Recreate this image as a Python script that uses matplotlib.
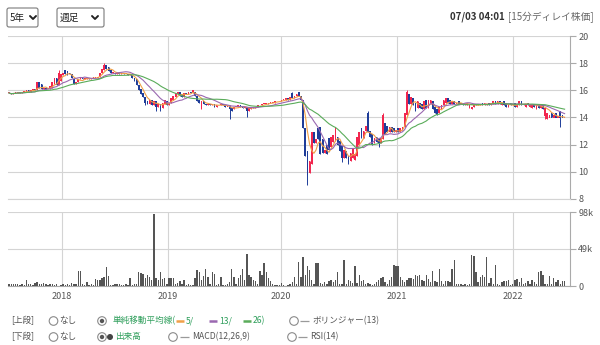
import numpy as np
import pandas as pd
import matplotlib
matplotlib.use('Agg')
import matplotlib.pyplot as plt
from matplotlib.patches import FancyBboxPatch, Circle

plt.rcParams['font.family'] = ['Noto Sans CJK JP', 'DejaVu Sans']

# 週足データ (始値 / 終値 / 出来高[千株])
opens = [
    15.8, 15.8, 15.7, 15.8, 15.8, 15.9, 15.8, 15.9, 15.9, 16.0,
    15.9, 16.0, 16.1, 16.0, 16.6, 16.5, 16.1, 16.2, 16.1, 16.1,
    16.2, 16.5, 16.9, 16.4, 16.7, 17.1, 17.5, 17.4, 17.3, 17.2,
    16.8, 16.5, 16.6, 16.8, 16.9, 16.8, 16.8, 16.9, 16.8, 16.9,
    16.9, 16.9, 17.0, 17.3, 17.5, 17.9, 17.7, 17.5, 17.3, 17.3,
    17.2, 17.3, 17.2, 17.3, 17.2, 17.2, 17.1, 17.1, 16.9, 16.8,
    16.4, 16.1, 15.8, 15.5, 15.2, 15.0, 15.3, 14.9, 15.2, 14.8,
    15.0, 14.7, 15.0, 15.2, 14.9, 15.1, 15.3, 15.5, 15.7, 15.9,
    15.7, 15.5, 15.8, 15.7, 15.9, 15.8, 15.9, 15.6, 15.3, 14.6,
    15.2, 15.0, 14.9, 15.0, 14.9, 15.0, 14.8, 14.9, 14.9, 15.0,
    14.9, 14.8, 14.9, 14.7, 14.6, 14.8, 14.8, 14.9, 14.8, 14.7,
    14.8, 14.5, 14.6, 14.8, 14.7, 14.8, 14.9, 14.9, 15.0, 15.0,
    15.0, 15.1, 15.1, 15.1, 15.2, 15.2, 15.2, 15.3, 15.3, 15.4,
    15.3, 15.8, 15.4, 15.6, 15.9, 15.6, 15.3, 13.2, 11.5, 9.9,
    10.6, 12.9, 12.1, 13.2, 13.3, 12.4, 11.4, 12.0, 12.5, 11.8,
    12.2, 12.3, 12.6, 12.3, 11.9, 11.0, 11.5, 11.2, 10.8, 11.0,
    10.9, 11.2, 12.0, 13.2, 12.5, 13.0, 14.3, 13.0, 12.8, 12.1,
    12.6, 12.4, 12.1, 12.4, 13.6, 13.4, 12.9, 13.3, 13.2, 12.9,
    13.2, 12.9, 13.1, 13.3, 14.2, 15.7, 15.0, 15.4, 15.1, 14.7,
    15.1, 15.0, 14.6, 15.3, 14.7, 15.0, 15.2, 14.8, 14.6, 14.3,
    14.6, 14.9, 15.1, 15.4, 15.3, 15.0, 15.2, 15.0, 15.2, 15.0,
    15.1, 14.9, 14.9, 14.7, 14.6, 14.8, 15.0, 14.9, 14.9, 15.1,
    14.9, 14.9, 15.1, 14.9, 15.0, 15.2, 15.0, 15.2, 14.9, 15.2,
    15.1, 14.8, 15.1, 14.9, 15.1, 14.8, 14.9, 15.2, 14.9, 14.8,
    15.1, 14.8, 14.7, 15.0, 14.6, 14.9, 14.7, 14.9, 14.1, 13.9,
    14.0, 14.3, 14.0, 14.3, 14.0, 14.5, 14.2, 14.0,
]
closes = [
    15.8, 15.7, 15.8, 15.8, 15.9, 15.8, 15.9, 15.9, 16.0, 15.9,
    16.0, 16.1, 16.0, 16.6, 16.2, 16.1, 16.2, 16.1, 16.1, 16.3,
    16.6, 16.9, 16.4, 17.3, 17.2, 17.3, 17.2, 17.1, 17.2, 16.9,
    16.5, 16.6, 16.8, 16.9, 16.8, 16.9, 16.9, 16.8, 16.9, 17.0,
    16.9, 17.0, 17.3, 17.6, 17.9, 17.6, 17.4, 17.3, 17.3, 17.2,
    17.3, 17.2, 17.3, 17.2, 17.2, 17.1, 17.2, 16.9, 16.7, 16.4,
    16.0, 15.7, 15.5, 15.1, 15.0, 15.3, 14.9, 15.2, 14.8, 15.0,
    14.7, 15.1, 15.3, 14.9, 15.1, 15.4, 15.6, 15.8, 15.9, 15.6,
    15.5, 15.8, 15.7, 15.9, 15.8, 16.0, 15.6, 15.2, 15.1, 15.2,
    15.0, 14.9, 15.0, 14.9, 15.0, 14.8, 14.9, 14.9, 15.0, 14.9,
    14.8, 14.8, 14.6, 14.5, 14.8, 14.8, 14.9, 14.8, 14.7, 14.8,
    14.5, 14.7, 14.8, 14.7, 14.8, 14.9, 14.9, 15.0, 15.0, 15.0,
    15.1, 15.1, 15.1, 15.2, 15.2, 15.2, 15.3, 15.3, 15.4, 15.3,
    15.5, 15.4, 15.6, 15.7, 15.6, 15.3, 13.2, 11.2, 9.8, 10.8,
    12.9, 12.1, 12.4, 12.4, 11.3, 11.4, 11.6, 11.3, 11.6, 12.6,
    12.7, 13.3, 12.0, 11.5, 11.0, 11.6, 11.0, 10.7, 11.4, 11.7,
    11.3, 12.6, 12.9, 12.5, 13.0, 13.4, 12.9, 12.6, 12.0, 12.5,
    12.2, 12.1, 12.5, 14.2, 12.8, 12.9, 13.3, 12.9, 12.9, 13.1,
    12.9, 13.2, 13.3, 14.3, 15.9, 15.0, 15.5, 14.9, 14.5, 15.2,
    14.7, 14.6, 15.2, 14.7, 15.3, 15.3, 14.6, 14.3, 14.2, 14.8,
    14.9, 15.3, 15.4, 15.1, 15.0, 15.2, 15.0, 15.1, 15.0, 15.1,
    14.9, 15.0, 15.1, 14.9, 14.8, 14.9, 14.9, 15.0, 15.0, 14.9,
    15.1, 15.0, 14.9, 15.1, 15.2, 15.0, 15.2, 15.0, 15.1, 14.9,
    14.8, 15.0, 14.9, 15.0, 14.8, 14.9, 15.2, 14.9, 15.0, 15.0,
    14.9, 14.9, 15.0, 14.8, 14.9, 14.7, 14.9, 14.6, 14.7, 14.3,
    14.2, 14.0, 14.2, 14.0, 14.1, 14.0, 14.0, 14.0,
]
# 目立つヒゲだけ (週番号: 値)
wick_highs = {23: 17.5, 44: 18.0, 131: 15.9, 166: 14.5, 173: 14.3, 184: 16.0}
wick_lows = {63: 14.9, 68: 14.5, 70: 14.5, 102: 13.9, 110: 14.0, 138: 9.0,
             154: 10.7, 157: 10.6, 171: 11.8, 248: 13.9, 255: 13.3}
volumes = [
    2, 3, 2, 3, 2, 1, 2, 1, 8, 3,
    2, 1, 4, 5, 2, 3, 4, 2, 1, 2,
    3, 1, 2, 0.5, 1, 2, 1, 3, 1, 4,
    3, 2, 20, 20, 2, 1, 5, 1, 2, 1,
    9, 8, 8, 10, 12, 25, 13, 1, 1, 3,
    3, 2, 1, 1, 2, 1, 10, 1, 2, 2,
    18, 17, 16, 10, 15, 12, 8, 96, 10, 8,
    18, 9, 11, 3, 11, 10, 11, 2, 4, 6,
    3, 8, 1, 2, 1, 1, 10, 21, 19, 8,
    13, 22, 12, 2, 19, 16, 1, 2, 12, 1,
    1, 2, 5, 23, 12, 3, 10, 15, 22, 8,
    43, 15, 12, 8, 6, 3, 20, 15, 30, 18,
    10, 7, 3, 1, 1, 1, 4, 1, 0.5, 1,
    3, 5, 12, 3, 32, 12, 39, 15, 26, 21,
    8, 3, 30, 31, 4, 3, 5, 3, 6, 8,
    5, 8, 19, 3, 2, 34, 3, 8, 6, 4,
    26, 4, 15, 6, 8, 3, 4, 2, 1, 3,
    5, 8, 10, 12, 5, 3, 8, 12, 28, 27,
    26, 12, 8, 5, 8, 10, 10, 9, 15, 13,
    14, 8, 6, 15, 9, 5, 20, 6, 5, 23,
    6, 2, 6, 6, 5, 23, 35, 3, 2, 2,
    1, 2, 1, 3, 41, 40, 19, 5, 12, 14,
    12, 39, 4, 10, 3, 28, 2, 1, 5, 6,
    6, 8, 1, 2, 8, 9, 5, 10, 3, 4,
    6, 2, 8, 5, 2, 19, 20, 15, 3, 2,
    13, 3, 10, 5, 8, 3, 7, 6,
]
year_labels = ['2018', '2019', '2020', '2021', '2022']
year_pos = [24.5, 73.5, 125.8, 179.5, 233.1]
price_ticks = [8, 10, 12, 14, 16, 18, 20]
vol_ticks = [0, 49, 98]
vol_labels = ['0', '49k', '98k']

df = pd.DataFrame({'o': opens, 'c': closes, 'v': volumes})
df['h'] = df[['o', 'c']].max(axis=1)
df['l'] = df[['o', 'c']].min(axis=1)
for k, v in wick_highs.items():
    df.loc[k, 'h'] = v
for k, v in wick_lows.items():
    df.loc[k, 'l'] = v
x = np.arange(len(df))

UP = '#f2264e'
DOWN = '#1f3d99'
GRID = '#d4d4d4'
TXT = '#555555'
GREEN = '#2e9e5b'

W, H = 600, 345
fig = plt.figure(figsize=(6, 3.45), dpi=100)

# 画面全体の UI 用 (ピクセル座標)
ui = fig.add_axes([0, 0, 1, 1])
ui.set_xlim(0, W)
ui.set_ylim(H, 0)
ui.axis('off')


def px_rect(left, top, right, bottom):
    return [left / W, 1 - bottom / H, (right - left) / W, (bottom - top) / H]


ax = fig.add_axes(px_rect(8, 36, 570, 199))
axv = fig.add_axes(px_rect(8, 212, 570, 286))

# ローソク足
up = df['c'] >= df['o']
col = np.where(up, UP, DOWN)
body = (df['c'] - df['o']).abs().clip(lower=0.05)
ax.vlines(x, df['l'], df['h'], colors=col, linewidth=0.7, zorder=3)
ax.bar(x, body, bottom=df[['o', 'c']].min(axis=1), width=0.8, color=col,
       linewidth=0, zorder=3)

# 単純移動平均線
for n, c in [(5, '#f0a048'), (13, '#9a68b0'), (26, '#5aac5a')]:
    ma = df['c'].rolling(n, min_periods=1).mean()
    ax.plot(x, ma, color=c, linewidth=0.8, zorder=4)

ax.set_xlim(-0.5, 259.5)
ax.set_ylim(8, 20)
ax.set_yticks(price_ticks)
ax.set_xticks(year_pos)
ax.set_xticklabels([])

# 出来高
axv.bar(x, df['v'], width=0.65, color='#555555', linewidth=0, zorder=3)
axv.set_xlim(-0.5, 259.5)
axv.set_ylim(0, 98)
axv.set_yticks(vol_ticks)
axv.set_yticklabels(vol_labels)
axv.set_xticks(year_pos)
axv.set_xticklabels(year_labels)

for a in (ax, axv):
    a.set_facecolor('none')
    a.grid(True, color=GRID, linewidth=0.8, zorder=0)
    a.yaxis.tick_right()
    a.tick_params(axis='y', length=4, width=0.8, color='#aaaaaa', pad=2,
                  labelsize=6.5, labelcolor=TXT)
    a.tick_params(axis='x', length=0, pad=4, labelsize=6.5, labelcolor=TXT)
    for s in ('left', 'top'):
        a.spines[s].set_visible(False)
    a.spines['right'].set_color('#aaaaaa')
    a.spines['right'].set_linewidth(0.8)
    a.spines['bottom'].set_color(GRID)
    a.spines['bottom'].set_linewidth(0.8)
axv.spines['bottom'].set_color('#aaaaaa')

# 上部のセレクト
for left, right, label, cx in [(7, 38, '5年', 33), (57, 104, '週足', 95)]:
    ui.add_patch(FancyBboxPatch((left, 8), right - left, 19,
                                boxstyle='round,pad=0,rounding_size=2',
                                fc='white', ec='#7a7a7a', lw=0.8))
    ui.text(left + 3, 17.5, label, fontsize=7, va='center', color='#222222')
    ui.plot([cx - 3, cx, cx + 3], [16, 19, 16], color='#222222', lw=1.4,
            solid_capstyle='round', solid_joinstyle='round')

ui.text(505, 17, '07/03 04:01', fontsize=7, fontweight='bold', ha='right',
        va='center', color='#333333')
ui.text(508, 17, '[15分ディレイ株価]', fontsize=7, ha='left', va='center',
        color='#666666')


def radio(cx, cy, on=False):
    ui.add_patch(Circle((cx, cy), 4.3, fc='white', ec='#8a8a8a', lw=0.8))
    if on:
        ui.add_patch(Circle((cx, cy), 2.2, fc='#555555', ec='none'))


def label(px, py, s, color='#555555'):
    ui.text(px, py, s, fontsize=6.2, va='center', ha='left', color=color)


def dash(x0, x1, py, color, lw=1.8):
    ui.plot([x0, x1], [py, py], color=color, lw=lw, solid_capstyle='butt')


# 下部の設定 (上段)
r1, r2 = 321, 337
label(11, r1, '[上段]')
radio(53.5, r1)
label(59, r1, 'なし')
radio(102, r1, True)
label(113, r1, '単純移動平均線(', GREEN)
dash(176, 184, r1, '#f0a048')
label(186, r1, '5/', GREEN)
dash(209, 217, r1, '#9a68b0')
label(219, r1, '13/', GREEN)
dash(243, 251, r1, '#5aac5a')
label(253, r1, '26)', GREEN)
radio(294, r1)
dash(300, 309, r1, '#9a9a9a', lw=0.9)
label(312, r1, 'ボリンジャー(13)')

# 下段
label(11, r2, '[下段]')
radio(53.5, r2)
label(59, r2, 'なし')
radio(102, r2, True)
ui.add_patch(Circle((110, r2), 3.0, fc='#444444', ec='none'))
label(115, r2, '出来高', GREEN)
radio(173, r2)
dash(180, 189, r2, '#9a9a9a', lw=0.9)
label(192, r2, 'MACD(12,26,9)')
radio(292, r2)
dash(298, 307, r2, '#9a9a9a', lw=0.9)
label(310, r2, 'RSI(14)')

fig.savefig('out.png', dpi=100)
